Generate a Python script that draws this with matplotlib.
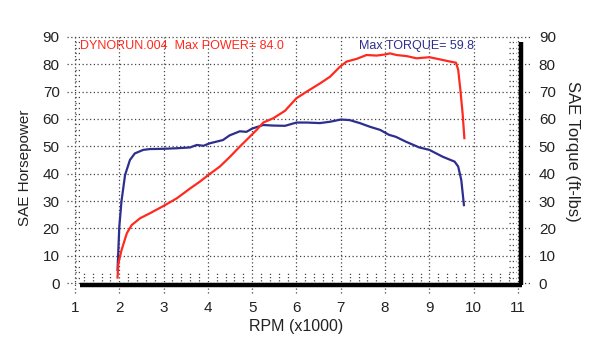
import matplotlib
matplotlib.use("Agg")
import matplotlib.pyplot as plt
import numpy as np

plt.rcParams['font.family'] = ['Liberation Sans', 'DejaVu Sans']

# ---- data ----
rpm_power = [1.96, 1.98, 2.05, 2.17, 2.28, 2.47, 2.69, 3.0, 3.3, 3.6, 3.82, 4.01,
             4.27, 4.5, 4.72, 4.87, 5.1, 5.25, 5.48, 5.74, 6.0, 6.23, 6.53, 6.76,
             6.98, 7.13, 7.36, 7.58, 7.81, 8.0, 8.11, 8.26, 8.49, 8.71, 9.0, 9.24,
             9.47, 9.6, 9.65, 9.7, 9.75, 9.79]
power = [2.0, 7.2, 12.0, 18.2, 21.2, 23.7, 25.5, 28.2, 31.0, 34.6, 37.1, 39.5,
         42.6, 46.2, 49.9, 52.3, 56.0, 58.7, 60.3, 63.0, 67.6, 70.0, 73.0, 75.5,
         79.1, 81.0, 82.0, 83.4, 83.2, 83.6, 84.0, 83.4, 83.0, 82.2, 82.6, 81.8,
         81.0, 80.6, 78.0, 70.6, 62.0, 53.0]

rpm_torque = [1.96, 2.0, 2.05, 2.13, 2.24, 2.35, 2.54, 2.69, 3.0, 3.3, 3.6, 3.75,
              3.9, 4.04, 4.34, 4.49, 4.72, 4.87, 5.0, 5.25, 5.47, 5.74, 6.0, 6.23,
              6.53, 6.76, 7.0, 7.2, 7.43, 7.65, 7.89, 8.09, 8.24, 8.47, 8.77, 9.0,
              9.3, 9.57, 9.65, 9.72, 9.78]
torque = [4.8, 20.6, 30.0, 39.5, 45.0, 47.4, 48.7, 49.0, 49.1, 49.3, 49.6, 50.5,
          50.2, 51.1, 52.3, 54.0, 55.5, 55.3, 56.5, 57.8, 57.6, 57.5, 58.7, 58.7,
          58.5, 59.0, 59.8, 59.6, 58.5, 57.2, 56.0, 54.2, 53.5, 51.7, 49.6, 48.7,
          46.2, 44.4, 42.6, 37.7, 28.5]

x_ticks = [1, 2, 3, 4, 5, 6, 7, 8, 9, 10, 11]
y_ticks = [0, 10, 20, 30, 40, 50, 60, 70, 80, 90]

power_label = "DYNORUN.004  Max POWER= 84.0"
torque_label = "Max TORQUE= 59.8"

RED = '#ff2a1f'
BLUE = '#2e2e8e'
GRID = '#444444'

fig = plt.figure(figsize=(6.0, 3.64), dpi=100)
ax = fig.add_axes([0.125, 0.2225, 0.7383, 0.6759])
ax.set_xlim(1, 11)
ax.set_ylim(0, 90)
for s in ax.spines.values():
    s.set_visible(False)

dot = (0, (1, 2))
# grid lines, extended slightly beyond the frame (dotted tick marks)
for yv in y_ticks:
    ax.plot([0.82, 11.28], [yv, yv], color=GRID, lw=0.9, ls=dot, clip_on=False, zorder=1)
for xv in x_ticks:
    ax.plot([xv, xv], [-3.8, 90], color=GRID, lw=0.9, ls=dot, clip_on=False, zorder=1)
# minor dotted ticks on bottom
for xv in np.arange(1.2, 11.0, 0.2):
    if abs(xv - round(xv)) > 1e-6:
        ax.plot([xv, xv], [0.6, 3.8], color=GRID, lw=0.9, ls=(0, (1, 1.6)), zorder=1)
# minor dotted ticks on left/right
for yv in np.arange(2, 90, 2):
    if yv % 10:
        ax.plot([1.0, 1.12], [yv, yv], color=GRID, lw=0.9, ls=(0, (1, 1.6)), zorder=1)
        ax.plot([10.8, 10.95], [yv, yv], color=GRID, lw=0.9, ls=(0, (1, 1.6)), zorder=1)

# thick black "shadow" frame on bottom and right
ax.plot([1.11, 11.09], [-0.75, -0.75], color='black', lw=3.2, solid_capstyle='butt',
        clip_on=False, zorder=3)
ax.plot([11.07, 11.07], [-0.75, 88.2], color='black', lw=3.2, solid_capstyle='butt',
        clip_on=False, zorder=3)

ax.plot(rpm_torque, torque, color=BLUE, lw=1.6, zorder=4, solid_joinstyle='round')
ax.plot(rpm_power, power, color=RED, lw=1.6, zorder=5, solid_joinstyle='round')

ax.text(1.12, 86.7, power_label, color=RED, fontsize=9, va='center', ha='left')
ax.text(10.0, 86.7, torque_label, color=BLUE, fontsize=9, va='center', ha='right')

ax.set_xticks(x_ticks)
ax.set_yticks(y_ticks)
ax.tick_params(axis='both', length=0, labelsize=11, colors='#222222')
ax.tick_params(axis='x', pad=13)
ax.tick_params(axis='y', pad=11)
ax.set_xlabel("RPM (x1000)", fontsize=11.5, labelpad=3, color='#222222')
ax.set_ylabel("SAE Horsepower", fontsize=11, color='#222222', va='center')
ax.yaxis.set_label_coords(-0.113, 0.467)

ax2 = ax.twinx()
ax2.set_ylim(0, 90)
ax2.set_yticks(y_ticks)
for s in ax2.spines.values():
    s.set_visible(False)
ax2.tick_params(axis='y', length=0, labelsize=11, pad=15, colors='#222222')
ax2.set_ylabel("SAE Torque (ft-lbs)", fontsize=12, rotation=-90, color='#222222',
               va='center')
ax2.yaxis.set_label_coords(1.124, 0.535)

fig.savefig("out.png", dpi=100)
